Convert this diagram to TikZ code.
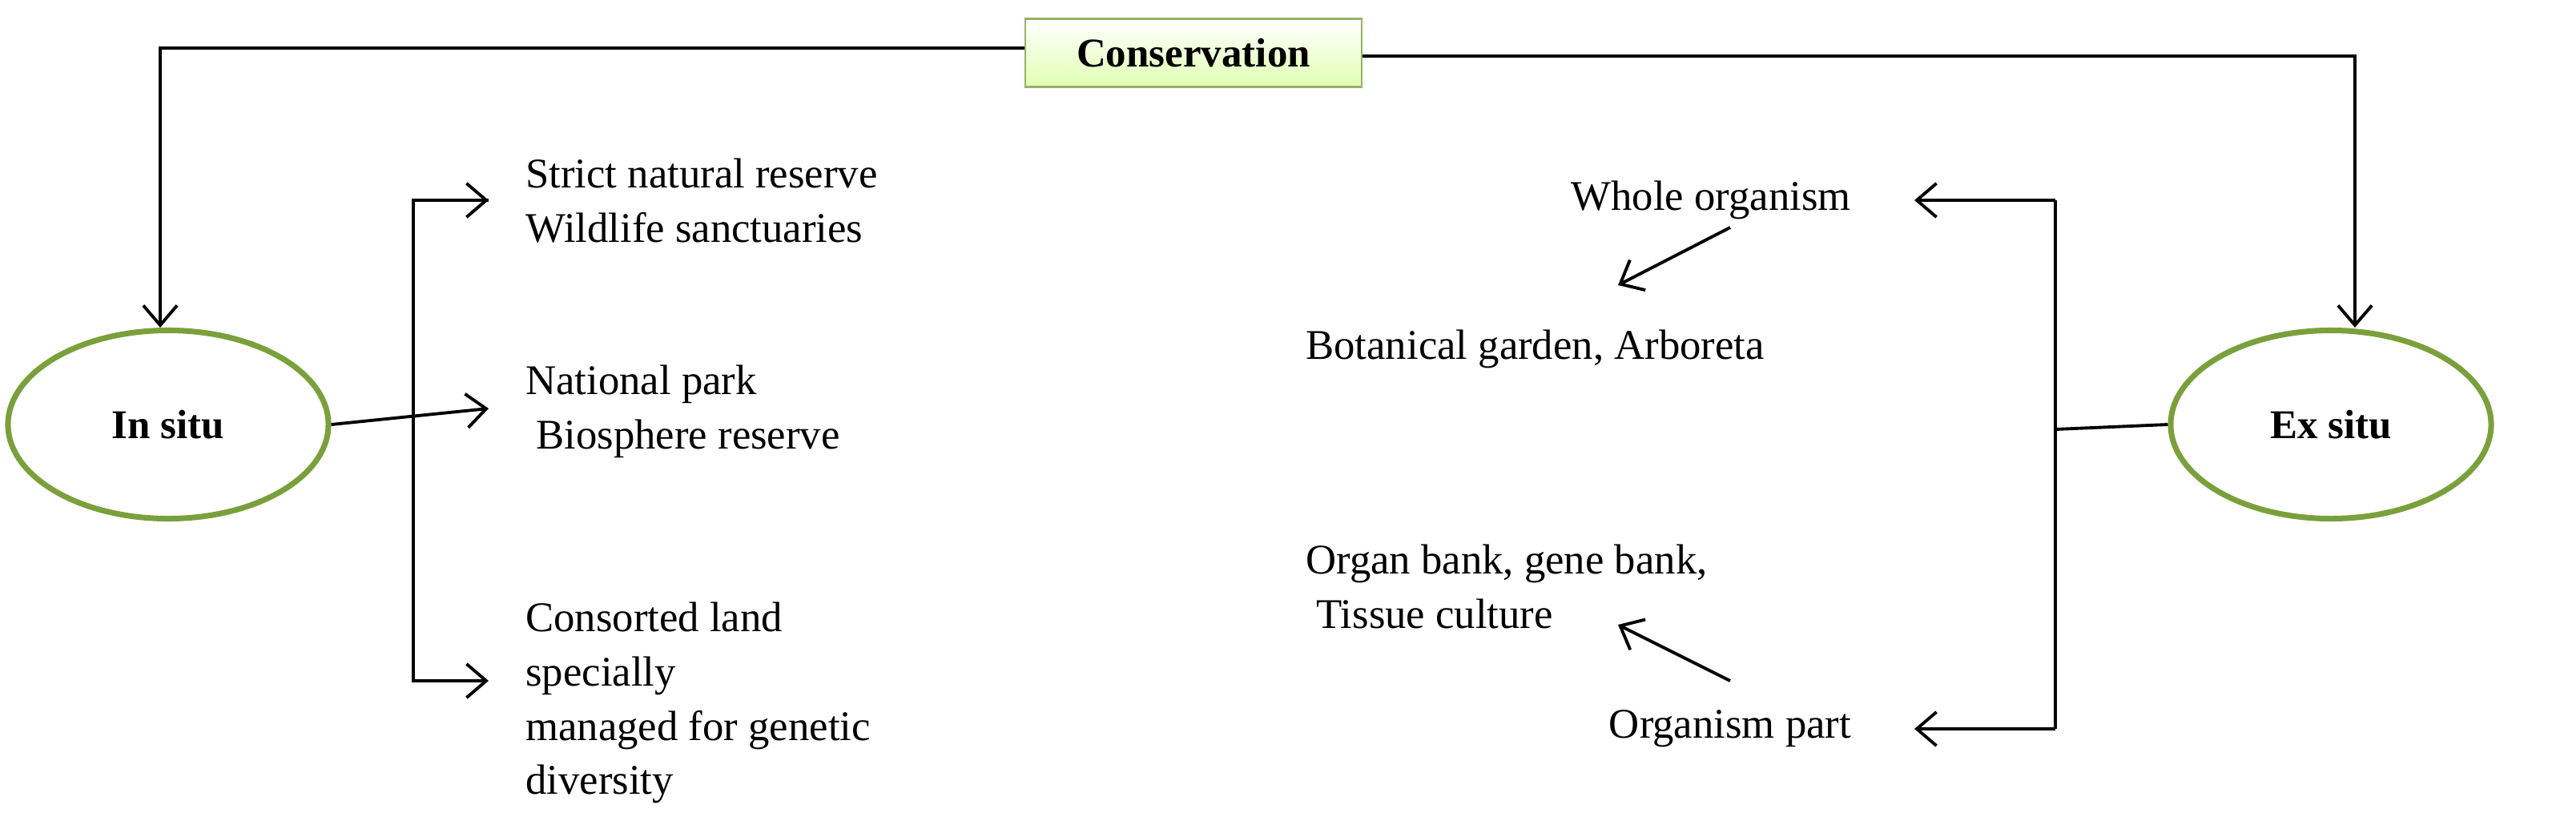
\documentclass[tikz,border=0pt]{standalone}
\usepackage{fontspec}
\setmainfont{Liberation Serif}
\usetikzlibrary{arrows.meta,shapes.geometric}
\definecolor{eg}{RGB}{122,160,60}
\begin{document}
\begin{tikzpicture}[x=0.04cm,y=-0.04cm,
  txt/.style={font=\fontsize{30}{38.5}\selectfont,align=left,inner sep=0pt,anchor=north west},
  ell/.style={ellipse,draw=eg,line width=4pt,minimum width=8cm,minimum height=4.7cm,font=\fontsize{29}{34}\selectfont\bfseries},
  arr/.style={-{Straight Barb[length=14pt,width=24pt]},line width=2.2pt},
  ln/.style={line width=2.2pt}]
\useasboundingbox (0,0) rectangle (1608,522);
\node[draw=eg!80,line width=1.5pt,top color=white,bottom color=green!20!lime!30,minimum width=8.4cm,minimum height=1.7cm,font=\fontsize{29}{34}\selectfont\bfseries] (cons) at (745,33) {Conservation};
\node[ell] (in) at (105,265) {In situ};
\node[ell] (ex) at (1455,265) {Ex situ};
\draw[arr] (cons.west|-0,30) -- (100,30) -- (in.north-|100,0);
\draw[arr] (cons.east|-0,35) -- (1470,35) -- (ex.north-|1470,0);
% in situ bracket
\coordinate (bt) at (258,125); \coordinate (bb) at (258,425);
\node[txt] (t1) at (328,99) {Strict natural reserve\\Wildlife sanctuaries};
\node[txt] (t2) at (328,228) {National park\\\ Biosphere reserve};
\node[txt] (t3) at (328,376) {Consorted land\\specially\\managed for genetic\\diversity};
\draw[arr] (305,125) -- (bt) -- (bb) -- (305,425);
\draw[arr] (bt) -- (305,125);
\draw[arr] (in.east) -- (305,255);
% ex situ
\coordinate (ct) at (1283,125); \coordinate (cb) at (1283,455);
\draw[ln] (ct) -- (cb);
\draw[arr] (ct) -- (1195,125);
\draw[arr] (cb) -- (1195,455);
\draw[ln] (ex.west) -- (1283,268);
\node[txt,anchor=center] (wo) at (1068,125) {Whole organism};
\node[txt,anchor=west] (bg) at (815,218) {Botanical garden, Arboreta};
\node[txt] (ob) at (815,340) {Organ bank, gene bank,\\\ Tissue culture};
\node[txt,anchor=center] (op) at (1080,455) {Organism part};
\draw[arr] (1080,142) -- (1010,178);
\draw[arr] (1080,425) -- (1010,390);
\end{tikzpicture}
\end{document}
